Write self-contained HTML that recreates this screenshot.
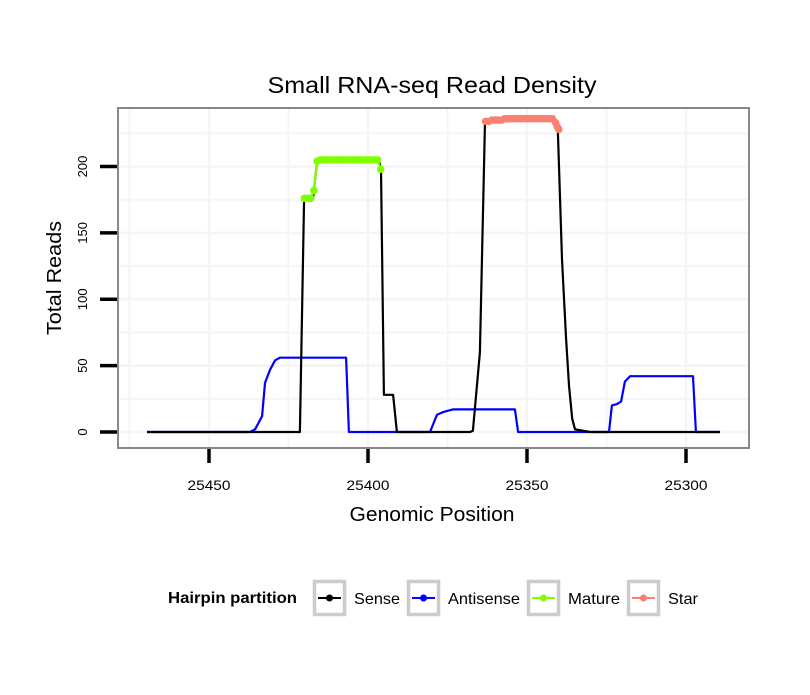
<!DOCTYPE html>
<html><head><meta charset="utf-8"><style>
body{margin:0;background:#fff;}
svg text{font-family:"Liberation Sans",sans-serif;}
</style></head><body>
<svg id="chart" width="810" height="690" viewBox="0 0 810 690" xmlns="http://www.w3.org/2000/svg">
<rect width="810" height="690" fill="#fff"/>
<text x="432" y="93" text-anchor="middle" font-size="23" textLength="329" lengthAdjust="spacingAndGlyphs">Small RNA-seq Read Density</text>
<g id="grid"></g>
<g id="series"></g>
<rect x="118" y="108" width="631" height="340" fill="none" stroke="#888" stroke-width="2"/>
<g id="axes"></g>
<text x="432" y="521" text-anchor="middle" font-size="20" textLength="165" lengthAdjust="spacingAndGlyphs">Genomic Position</text>
<text transform="translate(61,278) rotate(-90)" text-anchor="middle" font-size="20" textLength="114" lengthAdjust="spacingAndGlyphs">Total Reads</text>
<g>
<text x="168" y="603" font-size="16" font-weight="bold" textLength="129" lengthAdjust="spacingAndGlyphs">Hairpin partition</text>
<g><rect x="314.5" y="581.5" width="30" height="33" fill="#fff" stroke="#ccc" stroke-width="3.5"/><line x1="318" y1="598" x2="341" y2="598" stroke="#000" stroke-width="2"/><circle cx="329.5" cy="598" r="3.5" fill="#000"/><text x="354" y="604" font-size="16" textLength="46" lengthAdjust="spacingAndGlyphs">Sense</text></g>
<g><rect x="408.5" y="581.5" width="30" height="33" fill="#fff" stroke="#ccc" stroke-width="3.5"/><line x1="412" y1="598" x2="435" y2="598" stroke="#0000ff" stroke-width="2"/><circle cx="423.5" cy="598" r="3.5" fill="#0000ff"/><text x="448" y="604" font-size="16" textLength="72" lengthAdjust="spacingAndGlyphs">Antisense</text></g>
<g><rect x="528.5" y="581.5" width="30" height="33" fill="#fff" stroke="#ccc" stroke-width="3.5"/><line x1="532" y1="598" x2="555" y2="598" stroke="#7fff00" stroke-width="2"/><circle cx="543.5" cy="598" r="3.5" fill="#7fff00"/><text x="568" y="604" font-size="16" textLength="52" lengthAdjust="spacingAndGlyphs">Mature</text></g>
<g><rect x="628.5" y="581.5" width="30" height="33" fill="#fff" stroke="#ccc" stroke-width="3.5"/><line x1="632" y1="598" x2="655" y2="598" stroke="#fa8072" stroke-width="2"/><circle cx="643.5" cy="598" r="3.5" fill="#fa8072"/><text x="668" y="604" font-size="16" textLength="30" lengthAdjust="spacingAndGlyphs">Star</text></g>
</g>
</svg>
<script>
const xTicks=[25450,25400,25350,25300];
const yTicks=[0,50,100,150,200];
const sensePos=[25469.5,25421.4,25420.1,25417.3,25417,25416,25396.5,25395.9,25395,25392.1,25390.9,25367.9,25367,25364.8,25363.2,25341.2,25340.3,25339,25337.7,25336.8,25335.8,25334.9,25330.2,25289.3];
const senseVal=[0,0,176,176,182,204,204,198,28,28,0,0,1,60,234,235,228,130,70,35,10,2,0,0];
const antiPos=[25469.5,25437.1,25435.5,25433.3,25432.4,25430.8,25429.2,25427.7,25406.9,25406.0,25380.5,25378.3,25376.4,25373.3,25353.8,25352.8,25324.2,25323.3,25321.7,25320.4,25319.2,25317.6,25297.8,25296.9,25289.3];
const antiVal=[0,0,2,12,37,47,54,56,56,0,0,13,15,17,17,0,0,20,21,23,38,42,42,0,0];
const maturePos=[25420,25419,25418,25417,25416,25415,25414,25413,25412,25411,25410,25409,25408,25407,25406,25405,25404,25403,25402,25401,25400,25399,25398,25397,25396];
const matureVal=[176,176,176,182,204,205,205,205,205,205,205,205,205,205,205,205,205,205,205,205,205,205,205,205,198];
const starPos=[25363,25362,25361,25360,25359,25358,25357,25356,25355,25354,25353,25352,25351,25350,25349,25348,25347,25346,25345,25344,25343,25342,25341,25340.5,25340];
const starVal=[234,234,235,235,235,235,236,236,236,236,236,236,236,236,236,236,236,236,236,236,236,236,233,230,228];
const NS="http://www.w3.org/2000/svg";
const X=p=>209+(25450-p)*3.18;
const Y=v=>432-v*1.3275;
function mk(t,a,parent){const e=document.createElementNS(NS,t);for(const k in a)e.setAttribute(k,a[k]);parent.appendChild(e);return e;}
const grid=document.getElementById('grid'),axes=document.getElementById('axes'),ser=document.getElementById('series');
for(let v=-25;v<=250;v+=25){const y=Y(v);if(y<110||y>446)continue;
 const l=mk('line',{x1:119,x2:748,y1:y,y2:y,stroke:'#f5f5f5','stroke-width':v%50===0?2.5:2},grid);
 
 }
for(let p=25475;p>=25275;p-=25){const x=X(p);if(x<120||x>747)continue;
 const l=mk('line',{x1:x,x2:x,y1:109,y2:447,stroke:'#f5f5f5','stroke-width':p%50===0?2.5:2},grid);
 
 }
xTicks.forEach(p=>{const x=X(p);
 const t=mk('line',{x1:x,x2:x,y1:449,y2:463,stroke:'#000','stroke-width':3.5},axes);
 
 
 const s=mk('text',{x:x,y:490,'text-anchor':'middle','font-size':14,textLength:43,lengthAdjust:'spacingAndGlyphs'},axes);s.textContent=p;
 
 });
yTicks.forEach(v=>{const y=Y(v);
 const t=mk('line',{x1:100,x2:117,y1:y,y2:y,stroke:'#000','stroke-width':3.5},axes);
 
 
 const s=mk('text',{transform:`translate(87,${y}) rotate(-90)`,'text-anchor':'middle','font-size':13},axes);s.textContent=v;
 
 });
function line(pos,val,color,name){const d=pos.map((p,i)=>(i?'L':'M')+X(p).toFixed(1)+','+Y(val[i]).toFixed(1)).join('');
 const e=mk('path',{d:d,fill:'none',stroke:color,'stroke-width':2.2,'stroke-linejoin':'round'},ser);
 
 }
function dots(pos,val,color,name){pos.forEach((p,i)=>{const c=mk('circle',{cx:X(p),cy:Y(val[i]),r:3.8,fill:color},ser);
 
 });}
line(antiPos,antiVal,'#0000ff','antisense-line');
line(sensePos,senseVal,'#000','sense-line');
line(maturePos,matureVal,'#7fff00','mature-line');
dots(maturePos,matureVal,'#7fff00','mature-point');
line(starPos,starVal,'#fa8072','star-line');
dots(starPos,starVal,'#fa8072','star-point');
</script>
</body></html>
